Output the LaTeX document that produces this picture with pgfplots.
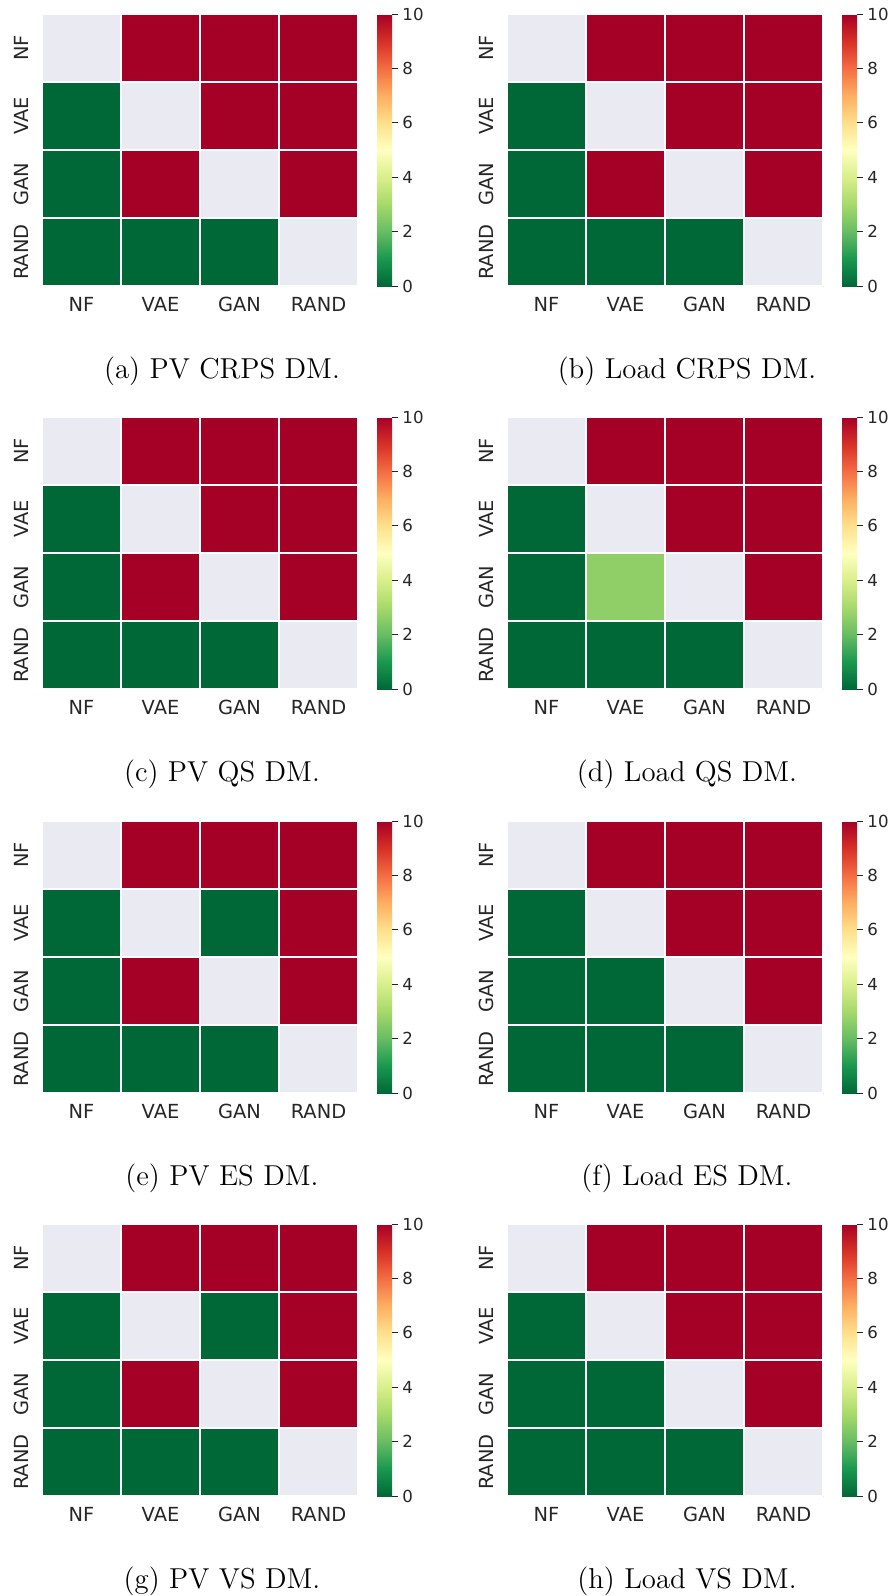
\documentclass[border=0pt]{standalone}
\usepackage{fontspec}
\usepackage{pgfplots}
\usepackage{pgfplotstable}
\pgfplotsset{compat=1.18}
\newfontfamily\dejavu{DejaVu Sans}
\definecolor{tcol}{HTML}{262626}
\definecolor{nancol}{HTML}{EAEAF2}
\newcommand\tickfont{\dejavu\fontsize{9.7}{11}\selectfont}
\newcommand\cbfont{\dejavu\fontsize{8.3}{9.5}\selectfont}
\newcommand\capfont{\fontsize{14.4}{17}\selectfont}

\pgfplotsset{colormap={rdylgnr}{rgb255=(0,104,55) rgb255=(26,152,80) rgb255=(102,189,99) rgb255=(166,217,106) rgb255=(217,239,139) rgb255=(255,255,191) rgb255=(254,224,139) rgb255=(253,174,97) rgb255=(244,109,67) rgb255=(215,48,39) rgb255=(165,0,38)}}

% x = column, y = row (0=NF,1=VAE,2=GAN,3=RAND); diagonal is empty (covered)
\pgfplotstableread{
x y c
0 0 0
1 0 10
2 0 10
3 0 10
0 1 0
1 1 0
2 1 10
3 1 10
0 2 0
1 2 10
2 2 0
3 2 10
0 3 0
1 3 0
2 3 0
3 3 0
}\tabA
\pgfplotstableread{
x y c
0 0 0
1 0 10
2 0 10
3 0 10
0 1 0
1 1 0
2 1 10
3 1 10
0 2 0
1 2 10
2 2 0
3 2 10
0 3 0
1 3 0
2 3 0
3 3 0
}\tabB
\pgfplotstableread{
x y c
0 0 0
1 0 10
2 0 10
3 0 10
0 1 0
1 1 0
2 1 10
3 1 10
0 2 0
1 2 10
2 2 0
3 2 10
0 3 0
1 3 0
2 3 0
3 3 0
}\tabC
\pgfplotstableread{
x y c
0 0 0
1 0 10
2 0 10
3 0 10
0 1 0
1 1 0
2 1 10
3 1 10
0 2 0
1 2 2.65
2 2 0
3 2 10
0 3 0
1 3 0
2 3 0
3 3 0
}\tabD
\pgfplotstableread{
x y c
0 0 0
1 0 10
2 0 10
3 0 10
0 1 0
1 1 0
2 1 0
3 1 10
0 2 0
1 2 10
2 2 0
3 2 10
0 3 0
1 3 0
2 3 0
3 3 0
}\tabE
\pgfplotstableread{
x y c
0 0 0
1 0 10
2 0 10
3 0 10
0 1 0
1 1 0
2 1 10
3 1 10
0 2 0
1 2 0
2 2 0
3 2 10
0 3 0
1 3 0
2 3 0
3 3 0
}\tabF
\pgfplotstableread{
x y c
0 0 0
1 0 10
2 0 10
3 0 10
0 1 0
1 1 0
2 1 0
3 1 10
0 2 0
1 2 10
2 2 0
3 2 10
0 3 0
1 3 0
2 3 0
3 3 0
}\tabG
\pgfplotstableread{
x y c
0 0 0
1 0 10
2 0 10
3 0 10
0 1 0
1 1 0
2 1 10
3 1 10
0 2 0
1 2 0
2 2 0
3 2 10
0 3 0
1 3 0
2 3 0
3 3 0
}\tabH

\pgfplotsset{
 hm/.style={
  scale only axis, width=158pt, height=136pt,
  xmin=-0.5, xmax=3.5, ymin=-0.5, ymax=3.5, y dir=reverse,
  enlargelimits=false, axis line style={draw=none},
  xtick={0,1,2,3}, ytick={0,1,2,3},
  xticklabels={NF,VAE,GAN,RAND}, yticklabels={NF,VAE,GAN,RAND},
  major tick length=0pt, minor tick length=0pt,
  xticklabel style={font=\tickfont, text=tcol, inner sep=0pt, anchor=north},
  yticklabel style={font=\tickfont, text=tcol, inner sep=0pt, rotate=90, anchor=south},
  xticklabel shift=5.5pt, yticklabel shift=6.5pt,
  minor xtick={-0.5,0.5,1.5,2.5,3.5}, minor ytick={-0.5,0.5,1.5,2.5,3.5},
  minor grid style={white, line width=0.75pt}, xminorgrids, yminorgrids,
  axis on top,
  colormap name=rdylgnr, point meta min=0, point meta max=10,
  colorbar,
  colorbar style={at={(parent axis.north east)}, anchor=north west, xshift=1pt,
    width=7.5pt, ytick={0,2,...,10}, axis line style={draw=none},
    ytick style={draw=tcol, line width=0.5pt}, major tick length=3pt,
    tick align=outside, ytick pos=right, yticklabel pos=right,
    yticklabel style={font=\cbfont, text=tcol, inner sep=0pt, anchor=west},
    yticklabel shift=2pt, /pgf/number format/assume math mode=true},
 }
}

\newcommand\diagcells{%
 \addplot[fill=nancol, draw=none, mark=none, forget plot] coordinates {(-0.5,-0.5) (0.5,-0.5) (0.5,0.5) (-0.5,0.5)} -- cycle;
 \addplot[fill=nancol, draw=none, mark=none, forget plot] coordinates {(0.5,0.5) (1.5,0.5) (1.5,1.5) (0.5,1.5)} -- cycle;
 \addplot[fill=nancol, draw=none, mark=none, forget plot] coordinates {(1.5,1.5) (2.5,1.5) (2.5,2.5) (1.5,2.5)} -- cycle;
 \addplot[fill=nancol, draw=none, mark=none, forget plot] coordinates {(2.5,2.5) (3.5,2.5) (3.5,3.5) (2.5,3.5)} -- cycle;
}

\newcommand\panel[3]{%
 \begin{axis}[hm, at={(#1,#2)}, anchor=north west]
  \addplot[matrix plot*, mesh/cols=4, point meta=explicit] table[x=x, y=y, meta=c] {#3};
  \diagcells
 \end{axis}
}

\begin{document}
\begin{tikzpicture}
\path[use as bounding box] (0,0) rectangle (444pt,-798pt);
\panel{21pt}{-7pt}{\tabA}
\panel{253.5pt}{-7pt}{\tabB}
\panel{21pt}{-208.5pt}{\tabC}
\panel{253.5pt}{-208.5pt}{\tabD}
\panel{21pt}{-410.5pt}{\tabE}
\panel{253.5pt}{-410.5pt}{\tabF}
\panel{21pt}{-612pt}{\tabG}
\panel{253.5pt}{-612pt}{\tabH}
\node[anchor=base, font=\capfont] at (111pt,-189pt) {(a) PV CRPS DM.};
\node[anchor=base, font=\capfont] at (343.5pt,-189pt) {(b) Load CRPS DM.};
\node[anchor=base, font=\capfont] at (111pt,-390.5pt) {(c) PV QS DM.};
\node[anchor=base, font=\capfont] at (343.5pt,-390.5pt) {(d) Load QS DM.};
\node[anchor=base, font=\capfont] at (111pt,-592.5pt) {(e) PV ES DM.};
\node[anchor=base, font=\capfont] at (343.5pt,-592.5pt) {(f) Load ES DM.};
\node[anchor=base, font=\capfont] at (111pt,-794pt) {(g) PV VS DM.};
\node[anchor=base, font=\capfont] at (343.5pt,-794pt) {(h) Load VS DM.};
\end{tikzpicture}
\end{document}
